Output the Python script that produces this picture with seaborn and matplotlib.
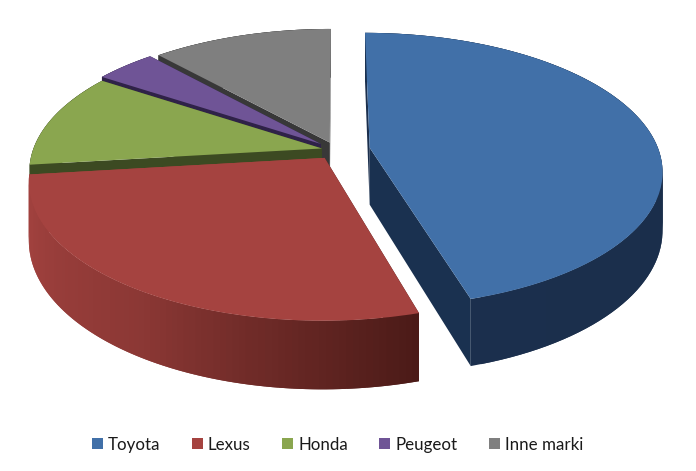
import matplotlib
matplotlib.use('Agg')
import matplotlib.pyplot as plt
import numpy as np
import seaborn as sns
from matplotlib.transforms import Transform

brands = ['Toyota', 'Lexus', 'Honda', 'Peugeot', 'Inne marki']
shares = [45.5, 27.6, 11.2, 4.0, 11.7]
top_colors = ['#4170a8', '#a54340', '#8aa64f', '#6f5496', '#7f7f7f']
wall_colors = [['#1a3150', '#1a2e4a', '#1b2f4d'],
               ['#a54340', '#8c3835', '#4a1a17'],
               ['#3c4a22', '#3c4a22', '#3c4a22'],
               ['#2f2248', '#2f2248', '#2f2248'],
               ['#383838', '#383838', '#383838']]
explode = [0.118, 0.07, 0.05, 0.07, 0.06]

CENTER_X, CENTER_Y = 336, 150
RADIUS_X, RADIUS_Y = 289, 134
TILT = 0.16
DEPTH = 57


class Perspective(Transform):
    input_dims = output_dims = 2

    def transform_non_affine(self, values):
        values = np.asarray(values, dtype=float)
        w = 1 + TILT * values[:, 1]
        return np.column_stack([CENTER_X + RADIUS_X * values[:, 0] / w,
                                CENTER_Y - RADIUS_Y * values[:, 1] / w])


def wall(axis, inner, outer, color):
    # quad between two model points on the top face and the same points lower down
    pts = Perspective().transform_non_affine(np.array([inner, outer]))
    w = 1 + TILT * np.array([inner[1], outer[1]])
    xs = [pts[0, 0], pts[1, 0], pts[1, 0], pts[0, 0]]
    ys = [pts[0, 1], pts[1, 1], pts[1, 1] + DEPTH / w[1], pts[0, 1] + DEPTH / w[0]]
    axis.fill(xs, ys, color=color, linewidth=0, zorder=axis.zcount)
    axis.zcount += 1


sns.set_theme(style='white')
plt.rcParams['font.family'] = ['Lato', 'DejaVu Sans']

figure, axis = plt.subplots(figsize=(6.96, 4.71), dpi=100)
figure.subplots_adjust(0, 0, 1, 1)

wedges, _ = axis.pie(shares, explode=explode, colors=top_colors, startangle=90, counterclock=False)
axis.set_aspect('auto')
axis.set_xlim(0, 696)
axis.set_ylim(471, 0)
axis.zcount = 1

# back slices first so the front ones cover them
for index in [4, 3, 2, 1, 0]:
    wedge = wedges[index]
    cx, cy = wedge.center
    angles = np.radians(np.linspace(wedge.theta1, wedge.theta2, 90))
    rim = np.column_stack([cx + np.cos(angles), cy + np.sin(angles)])
    shades = sns.blend_palette(wall_colors[index], len(rim))
    # the palette runs from the left end of the rim to the right end
    if rim[0, 0] > rim[-1, 0]:
        shades = shades[::-1]

    wall(axis, (cx, cy), rim[0], wall_colors[index][0])
    wall(axis, (cx, cy), rim[-1], wall_colors[index][-1])
    # each quad overlaps the next one so no seams show
    for step in range(len(rim) - 1):
        wall(axis, rim[step], rim[min(step + 2, len(rim) - 1)], shades[step])

    wedge.set_transform(Perspective() + axis.transData)
    wedge.set_edgecolor('none')
    wedge.set_zorder(axis.zcount)
    axis.zcount += 1

axis.legend(wedges, brands, ncols=5, loc='center', bbox_to_anchor=(0.485, 0.056), frameon=False,
            fontsize=12.2, handlelength=0.65, handleheight=0.65, handletextpad=0.3,
            columnspacing=1.85, labelcolor='#1a1a1a')

figure.savefig('out.png', dpi=100)
